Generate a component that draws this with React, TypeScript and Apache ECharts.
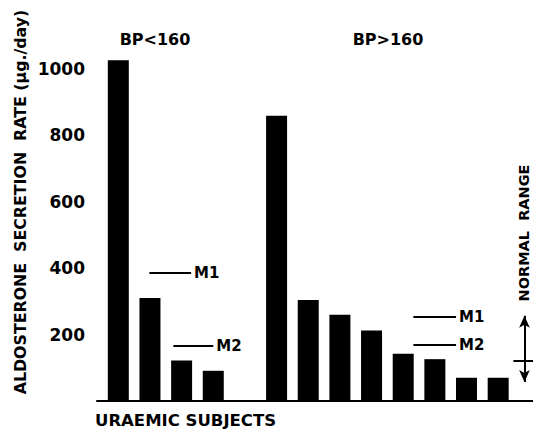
import React, { useEffect, useRef } from "react";
import * as echarts from "echarts";

// Data (µg/day)
const groupLow = [1026, 310, 122, 91]; // BP<160
const groupHigh = [859, 304, 260, 212, 142, 126, 70, 70]; // BP>160
const meanLow = { m1: 387, m2: 167 };
const meanHigh = { m1: 254, m2: 168 };
const normalRange = { low: 57, high: 257, mark: 122 };
const yTicks = [200, 400, 600, 800, 1000];

const FONT = "DejaVu Sans";

export default function App() {
  const ref = useRef<HTMLDivElement>(null);
  useEffect(() => {
    if (!ref.current) return;
    const chart = echarts.init(ref.current, null, { renderer: "svg" });
    const gap = 1; // one empty slot between the groups
    const barData: [number, number][] = [
      ...groupLow.map((v, i) => [i, v] as [number, number]),
      ...groupHigh.map((v, i) => [groupLow.length + gap + i, v] as [number, number]),
    ];
    const lineStyle = { color: "#000", width: 2, type: "solid" as const };
    const mLabel = (t: string) => ({
      show: true,
      position: "end" as const,
      formatter: t,
      color: "#000",
      fontFamily: FONT,
      fontWeight: "bold" as const,
      fontSize: 15,
      distance: 3,
    });
    const seg = (x0: number, x1: number, y: number, label: string) => [
      { coord: [x0, y], label: mLabel(label) },
      { coord: [x1, y] },
    ];
    const option: any = {
      animation: false,
      backgroundColor: "#fff",
      grid: { left: 97, right: 0, top: 69, bottom: 28, containLabel: false },
      xAxis: {
        type: "value",
        min: -0.673,
        max: 13.1,
        axisLine: { show: true, onZero: false, lineStyle: { color: "#000", width: 2 } },
        axisTick: { show: false },
        axisLabel: { show: false },
        splitLine: { show: false },
      },
      yAxis: {
        type: "value",
        min: 0,
        max: 1000,
        interval: 200,
        axisLine: { show: true, lineStyle: { color: "#000", width: 2 } },
        axisTick: { show: true, length: 4, lineStyle: { color: "#000", width: 2 } },
        axisLabel: {
          color: "#000",
          fontFamily: FONT,
          fontWeight: "bold",
          fontSize: 17,
          margin: 12,
          formatter: (v: number) => (yTicks.includes(v) ? String(v) : ""),
        },
        splitLine: { show: false },
      },
      series: [
        {
          type: "bar",
          data: barData,
          barWidth: 21,
          clip: false,
          itemStyle: { color: "#000" },
          markLine: {
            silent: true,
            symbol: ["none", "none"],
            lineStyle,
            data: [
              seg(0.98, 2.3, meanLow.m1, "M1"),
              seg(1.74, 3.0, meanLow.m2, "M2"),
              seg(9.32, 10.67, meanHigh.m1, "M1"),
              seg(9.32, 10.67, meanHigh.m2, "M2"),
            ],
          },
        },
        {
          type: "line",
          data: [],
          markLine: {
            silent: true,
            symbol: ["arrow", "arrow"],
            symbolSize: [8, 12],
            lineStyle,
            label: { show: false },
            data: [
              [{ coord: [12.83, normalRange.low] }, { coord: [12.83, normalRange.high] }],
            ],
          },
        },
        {
          type: "line",
          data: [],
          markLine: {
            silent: true,
            symbol: ["none", "none"],
            lineStyle,
            label: { show: false },
            data: [[{ coord: [12.48, normalRange.mark] }, { coord: [13.1, normalRange.mark] }]],
          },
        },
      ],
      graphic: [
        {
          type: "text",
          x: 20,
          y: 202,
          rotation: Math.PI / 2,
          style: {
            text: "ALDOSTERONE  SECRETION  RATE (µg./day)",
            fill: "#000",
            font: `bold 15.8px "${FONT}"`,
            align: "center",
            verticalAlign: "middle",
          },
        },
        {
          type: "text",
          x: 155,
          y: 39,
          style: {
            text: "BP<160",
            fill: "#000",
            font: `bold 16px "${FONT}"`,
            align: "center",
            verticalAlign: "middle",
          },
        },
        {
          type: "text",
          x: 388,
          y: 39,
          style: {
            text: "BP>160",
            fill: "#000",
            font: `bold 16px "${FONT}"`,
            align: "center",
            verticalAlign: "middle",
          },
        },
        {
          type: "text",
          x: 95,
          y: 420,
          style: {
            text: "URAEMIC SUBJECTS",
            fill: "#000",
            font: `bold 16.5px "${FONT}"`,
            align: "left",
            verticalAlign: "middle",
          },
        },
        {
          type: "text",
          x: 524,
          y: 233,
          rotation: Math.PI / 2,
          style: {
            text: "NORMAL  RANGE",
            fill: "#000",
            font: `bold 14.5px "${FONT}"`,
            align: "center",
            verticalAlign: "middle",
          },
        },
      ],
    };
    chart.setOption(option);
    return () => chart.dispose();
  }, []);
  return <div ref={ref} style={{ width: 533, height: 429, position: "absolute", left: 0, top: 0 }} />;
}
